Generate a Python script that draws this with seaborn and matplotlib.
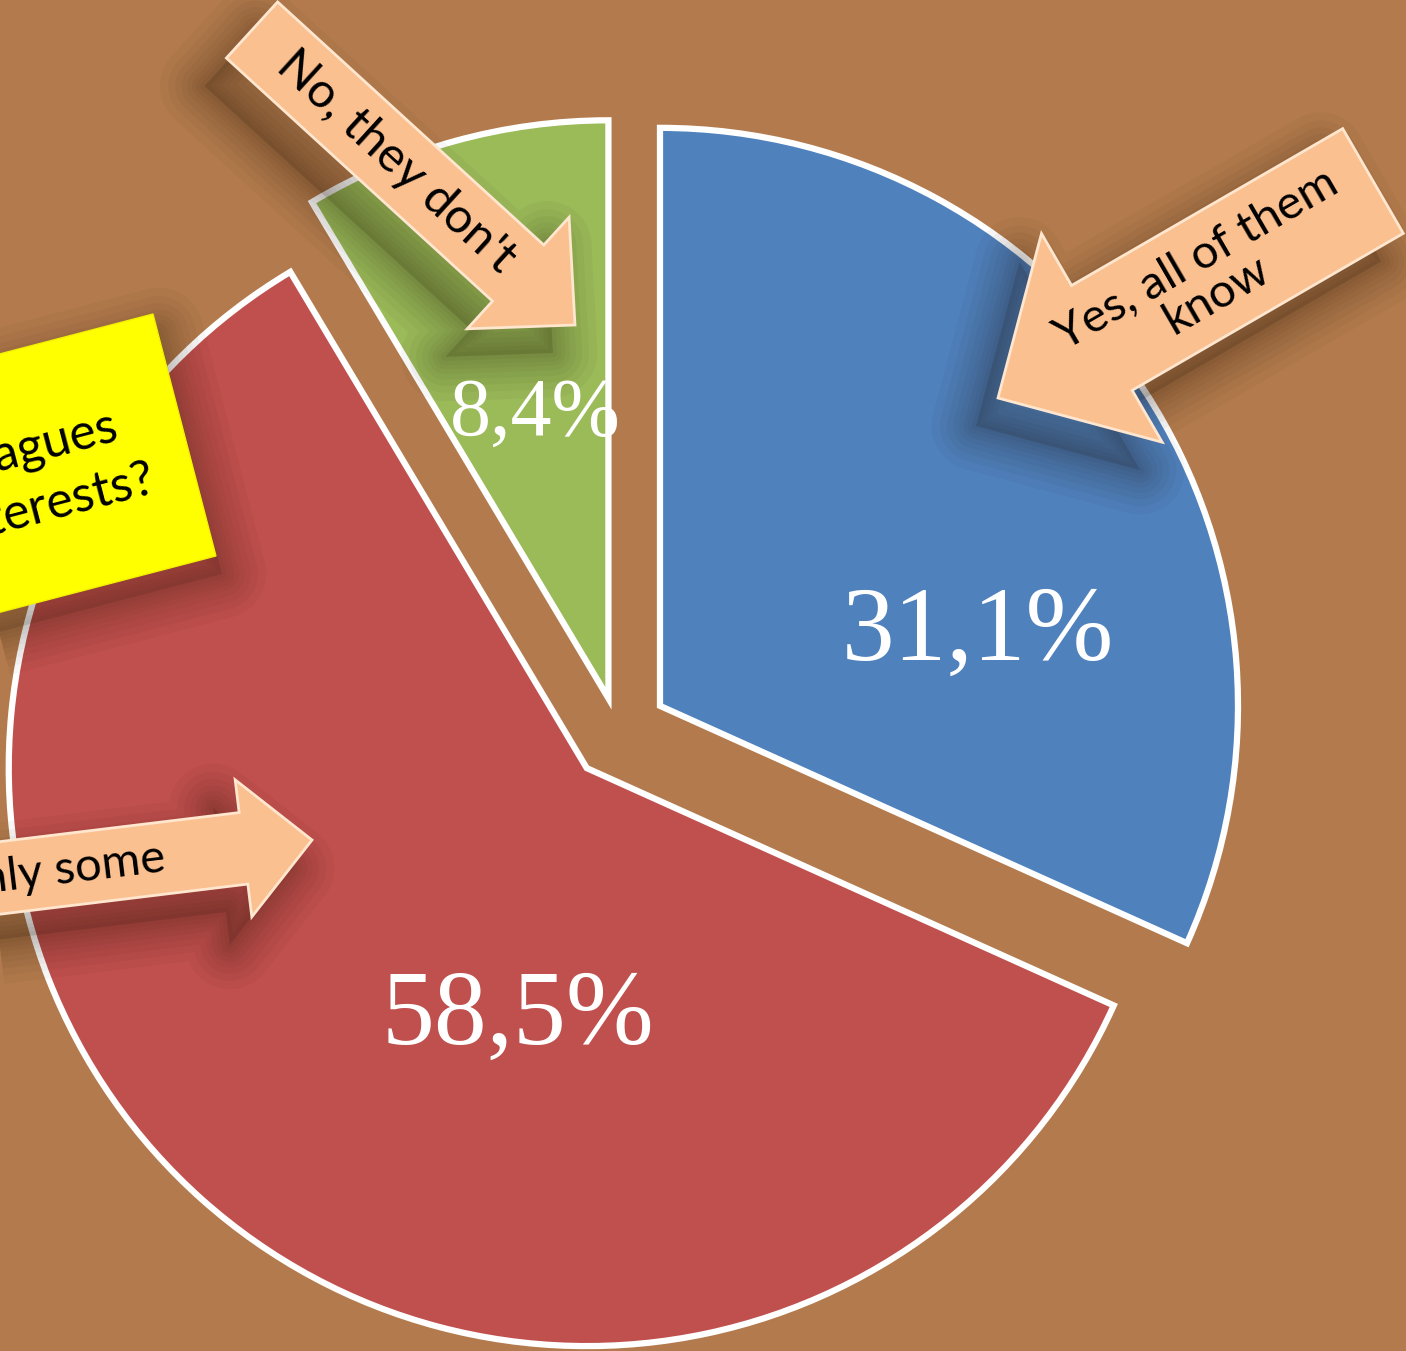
import numpy as np
import matplotlib
matplotlib.use("Agg")
import matplotlib.pyplot as plt
import seaborn as sns
from matplotlib.patches import Polygon

# Survey answers (clockwise from 12 o'clock)
answers = ["Yes, all of them\nknow", "Only some", "No, they don't"]
shares = [31.1, 58.5, 8.4]
share_labels = ["31,1%", "58,5%", "8,4%"]
slice_colors = ["#4F81BD", "#C0504D", "#9BBB59"]
question = ["Do your colleagues", "know your interests?"]

W, H = 1406, 1351
bg = "#B37B4D"
arrow_color = "#FAC090"

sns.set_style("white")
plt.rcParams.update({
    'font.family': ['Lato', 'DejaVu Sans'],
    'figure.facecolor': bg,
    'savefig.facecolor': bg,
})


def img(x, y):
    """Convert picture (top-left origin) position to data coordinates."""
    return np.array([x, H - y], dtype=float)


def add_shadow(ax, pts, offset, zorder, strength=0.035):
    """Soft drop shadow made of stacked translucent outlines."""
    for lw in [64, 52, 42, 33, 25, 18, 12, 6]:
        ax.add_patch(Polygon(pts + offset, closed=True,
                             fc='none', ec=(0.1, 0.05, 0, strength),
                             lw=lw, joinstyle='round', zorder=zorder))
    ax.add_patch(Polygon(pts + offset, closed=True, lw=0,
                         fc=(0.1, 0.05, 0, strength * 4), zorder=zorder))


def block_arrow(ax, tail, tip, shaft_w, head_w, head_l, zorder=6):
    t, p = img(*tail), img(*tip)
    d = p - t
    u = d / np.hypot(*d)
    n = np.array([-u[1], u[0]])
    b = p - u * head_l
    pts = np.array([t + n * shaft_w / 2, b + n * shaft_w / 2,
                    b + n * head_w / 2, p, b - n * head_w / 2,
                    b - n * shaft_w / 2, t - n * shaft_w / 2])
    add_shadow(ax, pts, np.array([-22, -28]), zorder - 1)
    ax.add_patch(Polygon(pts, closed=True, fc=arrow_color, ec="#FFE6CF",
                         lw=2, zorder=zorder))
    return t, u


fig = plt.figure(figsize=(W / 100, H / 100), dpi=100)
ax = fig.add_axes([0, 0, 1, 1])

wedges, _ = ax.pie(
    shares, colors=slice_colors, startangle=90, counterclock=False,
    center=img(618, 733), radius=578, explode=[50, 47, 36],
    wedgeprops=dict(edgecolor="white", linewidth=4.5), frame=True)

label_pos = [(978, 634), (518, 1019), (535, 415)]
label_size = [76, 76, 59]
for lab, pos, fs in zip(share_labels, label_pos, label_size):
    p = img(*pos)
    ax.text(p[0], p[1], lab, ha='center', va='center', fontsize=fs,
            color='white', family='Liberation Serif', zorder=10)

# "No, they don't"
t, u = block_arrow(ax, (252, 30), (575, 325), 76, 151, 77)
c = t + u * 195
ax.text(c[0], c[1], answers[2], rotation=np.degrees(np.arctan2(u[1], u[0])),
        rotation_mode='anchor', ha='center', va='center', fontsize=35,
        color='black', zorder=8)

# "Yes, all of them know"
t, u = block_arrow(ax, (1373, 181), (998, 398), 121, 241, 120)
c = t + u * 192
ax.text(c[0], c[1], answers[0],
        rotation=np.degrees(np.arctan2(u[1], u[0])) + 180,
        rotation_mode='anchor', ha='center', va='center', fontsize=34,
        linespacing=0.95, color='black', zorder=8)

# "Only some"
t, u = block_arrow(ax, (-190, 901), (312, 840), 72, 138, 69)
c = img(165, 858)
ax.text(c[0], c[1], answers[1], rotation=np.degrees(np.arctan2(u[1], u[0])),
        rotation_mode='anchor', ha='right', va='center', fontsize=34,
        color='black', zorder=8)

# Sticky note with the question
ang = np.radians(14.6)
rot = np.array([[np.cos(ang), -np.sin(ang)], [np.sin(ang), np.cos(ang)]])
half = 125
corners = np.array([[-half, -half], [half, -half], [half, half], [-half, half]])
note = corners @ rot.T + img(63.5, 466.5)
add_shadow(ax, note, np.array([6, -18]), 6, strength=0.03)
ax.add_patch(Polygon(note, closed=True, fc="#FFFF00", ec="#F2F200", lw=1,
                     zorder=7))
for line, pos in zip(question, [(120, 440), (157, 492)]):
    p = img(*pos)
    ax.text(p[0], p[1], line, rotation=14.6, rotation_mode='anchor',
            ha='right', va='baseline', fontsize=36, color='black', zorder=8)

ax.set_xlim(0, W)
ax.set_ylim(0, H)
ax.set_aspect('equal')
ax.axis('off')

fig.savefig("out.png", dpi=100, facecolor=bg)
